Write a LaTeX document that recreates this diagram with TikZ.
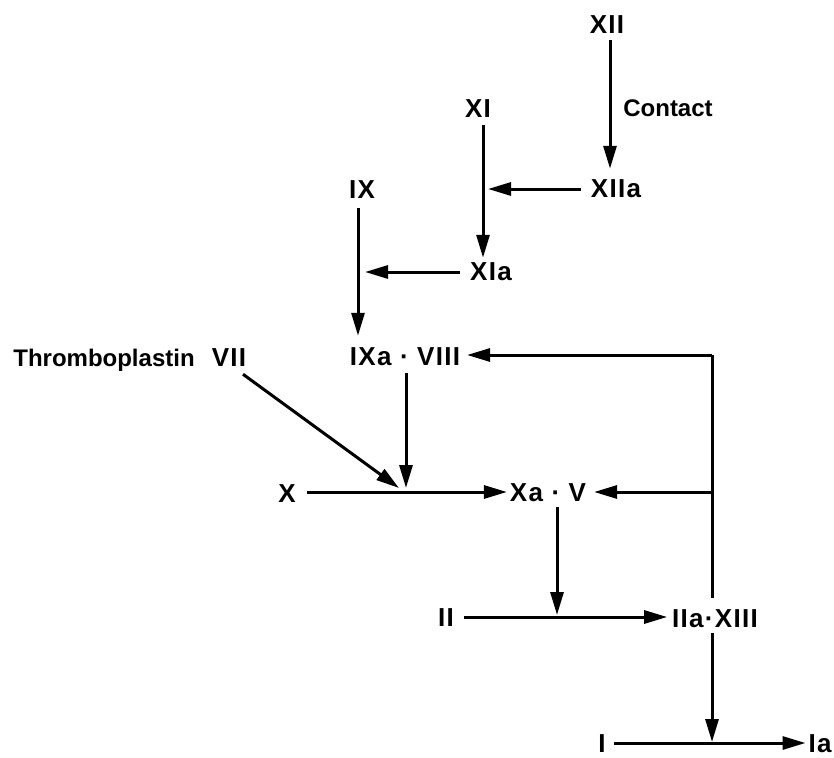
\documentclass[tikz,border=0pt]{standalone}
\usepackage{fontspec}
\setmainfont{Liberation Sans}
\newfontfamily\numfont[LetterSpace=5]{Liberation Sans}
\usetikzlibrary{arrows.meta,calc}
\begin{document}
\begin{tikzpicture}[x=1pt,y=-1pt,
  lbl/.style={font=\numfont\bfseries\fontsize{26}{26}\selectfont, inner sep=0pt, outer sep=0pt, text height=18.5pt, text depth=0pt},
  word/.style={lbl, font=\bfseries\fontsize{24}{24}\selectfont},
  ln/.style={line width=3pt},
  arr/.style={ln, -{Triangle[length=23pt,width=13pt]}}]
\useasboundingbox (0,0) rectangle (834,757);
% labels
\node[lbl] (XII) at (607,24) {XII};
\node[word] (contact) at (668,107) {Contact};
\node[lbl] (XIIa) at (616,188) {XIIa};
\node[lbl] (XI) at (478,108) {XI};
\node[lbl] (XIa) at (491,271) {XIa};
\node[lbl] (IX) at (362,189) {IX};
\node[lbl] (IXaVIII) at (405,356) {IXa · VIII};
\node[word] (thr) at (104,357) {Thromboplastin};
\node[lbl] (VII) at (229,357) {VII};
\node[lbl] (X) at (287,493) {X};
\node[lbl] (XaV) at (548,492) {Xa · V};
\node[lbl] (II) at (446,617) {II};
\node[lbl] (IIaXIII) at (715,618) {IIa·XIII};
\node[lbl] (I) at (602,743) {I};
\node[lbl] (Ia) at (820,743) {Ia};
% junctions
\coordinate (j1) at (483,189);
\coordinate (j2) at (358,272);
\coordinate (j3) at (712,355);
\coordinate (j4) at (712,492);
\coordinate (j5) at (406,492);
\coordinate (j6) at (557,617);
\coordinate (j7) at (712,743);
% connectors
\draw[arr] ($(XII.south)+(3,7)$) -- ($(XIIa.north)+(-6,-10)$);
\draw[arr] ($(XIIa.west |- j1)+(-10,0)$) -- ($(j1)+(5,0)$);
\draw[arr] ($(XI.south -| j1)+(0,8)$) -- ($(XIa.north -| j1)+(0,-4)$);
\draw[arr] ($(XIa.west |- j2)+(-10,0)$) -- ($(j2)+(7,0)$);
\draw[arr] ($(IX.south -| j2)+(0,10)$) -- ($(IXaVIII.north -| j2)+(0,-11)$);
\draw[arr] (j3) -- ($(IXaVIII.east |- j3)+(7,0)$);
\draw[ln] (j3) -- ($(IIaXIII.north -| j3)+(0,-11)$);
\draw[arr] (j4) -- ($(XaV.east |- j4)+(8,0)$);
\draw[arr] ($(X.east |- j5)+(11,0)$) -- ($(XaV.west |- j5)+(-3,0)$);
\draw[arr] ($(VII.south)+(14,8)$) -- ($(j5)+(-7,-4)$);
\draw[arr] ($(IXaVIII.south -| j5)+(0,8)$) -- ($(j5)+(0,-4)$);
\draw[arr] ($(XaV.south -| j6)+(0,6)$) -- ($(j6)+(0,-2)$);
\draw[arr] ($(II.east |- j6)+(10,0)$) -- ($(IIaXIII.west |- j6)+(-5,0)$);
\draw[arr] ($(IIaXIII.south -| j7)+(0,6)$) -- ($(j7)+(0,-1)$);
\draw[arr] ($(I.east |- j7)+(8,0)$) -- ($(Ia.west |- j7)+(-3,0)$);
\end{tikzpicture}
\end{document}
